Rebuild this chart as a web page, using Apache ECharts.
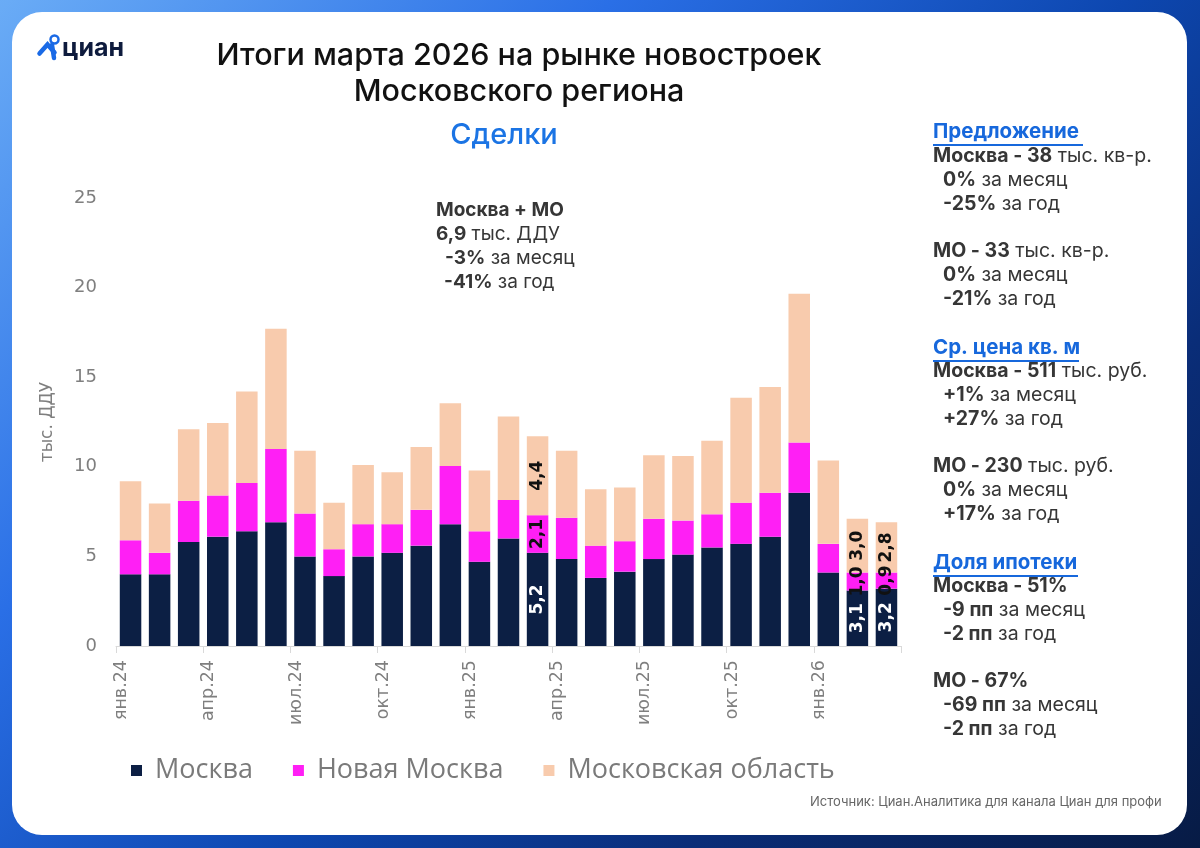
<!DOCTYPE html>
<html><head><meta charset="utf-8">
<script src="https://cdn.jsdelivr.net/npm/echarts@6/dist/echarts.min.js"></script>
<style>
html,body{margin:0;padding:0;width:1200px;height:848px;overflow:hidden;
background:linear-gradient(135deg,#6aacf6 0%,#2a6fe6 30%,#0d47b0 55%,#0a2d78 75%,#071b45 100%);}
#c{width:1200px;height:848px;}
</style></head>
<body><div id="c"></div>
<script>
var categories = ['янв.24','фев.24','мар.24','апр.24','май.24','июн.24','июл.24','авг.24','сен.24','окт.24','ноя.24','дек.24','янв.25','фев.25','мар.25','апр.25','май.25','июн.25','июл.25','авг.25','сен.25','окт.25','ноя.25','дек.25','янв.26','фев.26','мар.26'];
var moscow    = [4.0,4.0,5.8,6.1,6.4,6.9,5.0,3.9,5.0,5.2,5.6,6.8,4.7,6.0,5.2,4.85,3.8,4.15,4.85,5.1,5.5,5.7,6.1,8.55,4.1,3.1,3.2];
var newMoscow = [1.9,1.2,2.3,2.3,2.7,4.1,2.4,1.5,1.8,1.6,2.0,3.25,1.7,2.15,2.1,2.3,1.8,1.7,2.25,1.9,1.85,2.3,2.45,2.8,1.6,1.0,0.9];
var moRegion  = [3.3,2.75,4.0,4.05,5.1,6.7,3.5,2.6,3.3,2.9,3.5,3.5,3.4,4.65,4.4,3.75,3.15,3.0,3.55,3.6,4.1,5.85,5.9,8.3,4.65,3.0,2.8];
var labeledIdx = [14,25,26];
var seriesNames = ['Москва','Новая Москва','Московская область'];
var yTicks = [0,5,10,15,20,25];

var chart = echarts.init(document.getElementById('c'));

function buildData(arr, color){
  return arr.map(function(v,i){
    if(labeledIdx.indexOf(i)>=0){
      return {value:v,label:{show:true,color:color}};
    }
    return v;
  });
}
function fmt(p){ return Number(p.value).toFixed(1).replace('.',','); }
var labelBase = {show:false,position:'inside',rotate:90,fontSize:17,fontWeight:'bold',fontFamily:'DejaVu Sans',formatter:fmt};

var FONT='Inter';
var dark='#363636';
var PS=19.5;
function line(x,y,parts,size){
  var txt = parts.map(function(p){return '{'+p[0]+'|'+p[1]+'}';}).join('');
  return {type:'text',left:x,top:y,style:{text:txt,fontFamily:FONT,
    rich:{b:{fontSize:size||PS,fontWeight:'bold',fill:dark,fontFamily:FONT},
          n:{fontSize:size||PS,fontWeight:'normal',fill:dark,fontFamily:FONT}}}};
}
function header(x,y,t,w){
  return [{type:'text',left:x,top:y,style:{text:t,fontFamily:FONT,fontSize:20.5,fontWeight:'bold',fill:'#1768dc'}},
          {type:'rect',left:x,top:y+23,shape:{width:w,height:2},style:{fill:'#1768dc'}}];
}
var panelX = 933, ind = 943;
var graphics = [
  {type:'rect',left:12,top:12,shape:{width:1175,height:823,r:30},style:{fill:'#ffffff'},z:-10},
  // logo
  {type:'circle',left:48,top:33,shape:{r:4},style:{fill:'none',stroke:'#1a6ae6',lineWidth:2.5}},
  {type:'polyline',left:37,top:42,shape:{points:[[0,16],[8,7],[15,15]]},style:{stroke:'#1a6ae6',fill:'none',lineWidth:4.5,lineCap:'round'}},
  {type:'line',shape:{x1:52,y1:45,x2:54,y2:58},style:{stroke:'#1a6ae6',lineWidth:4.5,lineCap:'round'}},
  {type:'text',left:62,top:36,style:{text:'циан',fontFamily:'Inter',fontSize:25,fontWeight:'bold',fill:'#0e1b3d'}},
  // titles
  {type:'text',x:519,y:56,style:{text:'Итоги марта 2026 на рынке новостроек',align:'center',verticalAlign:'middle',fontFamily:'Inter',fontSize:30.5,fontWeight:500,fill:'#111'}},
  {type:'text',x:519,y:92,style:{text:'Московского региона',align:'center',verticalAlign:'middle',fontFamily:'Inter',fontSize:30.5,fontWeight:500,fill:'#111'}},
  {type:'text',x:504,y:135,style:{text:'Сделки',align:'center',verticalAlign:'middle',fontFamily:'Inter',fontSize:29,fontWeight:500,fill:'#1b74e4'}},
  // annotation
  line(436,201,[['b','Москва + МО']],19),
  line(436,225,[['b','6,9'],['n',' тыс. ДДУ']],19),
  line(445,249,[['b','-3%'],['n',' за месяц']],19),
  line(444,273,[['b','-41%'],['n',' за год']],19),
  // source
  {type:'text',left:810,top:796,style:{text:'Источник: Циан.Аналитика для канала Циан для профи',fontFamily:'Inter',fontSize:13,fill:'#666'}}
];
graphics = graphics.concat(header(panelX,121,'Предложение',150));
graphics.push(line(panelX,146,[['b','Москва - 38'],['n',' тыс. кв-р.']]));
graphics.push(line(ind,170,[['b','0%'],['n',' за месяц']]));
graphics.push(line(ind,194,[['b','-25%'],['n',' за год']]));
graphics.push(line(panelX,241,[['b','МО - 33'],['n',' тыс. кв-р.']]));
graphics.push(line(ind,265,[['b','0%'],['n',' за месяц']]));
graphics.push(line(ind,289,[['b','-21%'],['n',' за год']]));
graphics = graphics.concat(header(panelX,337,'Ср. цена кв. м',146));
graphics.push(line(panelX,361,[['b','Москва - 511'],['n',' тыс. руб.']]));
graphics.push(line(ind,385,[['b','+1%'],['n',' за месяц']]));
graphics.push(line(ind,409,[['b','+27%'],['n',' за год']]));
graphics.push(line(panelX,456,[['b','МО - 230'],['n',' тыс. руб.']]));
graphics.push(line(ind,480,[['b','0%'],['n',' за месяц']]));
graphics.push(line(ind,504,[['b','+17%'],['n',' за год']]));
graphics = graphics.concat(header(panelX,552,'Доля ипотеки',145));
graphics.push(line(panelX,576,[['b','Москва - 51%']]));
graphics.push(line(ind,600,[['b','-9 пп'],['n',' за месяц']]));
graphics.push(line(ind,624,[['b','-2 пп'],['n',' за год']]));
graphics.push(line(panelX,671,[['b','МО - 67%']]));
graphics.push(line(ind,695,[['b','-69 пп'],['n',' за месяц']]));
graphics.push(line(ind,719,[['b','-2 пп'],['n',' за год']]));

var option = {
  backgroundColor:'transparent',
  animation:false,
  graphic:graphics,
  grid:{left:116,right:299,top:198,bottom:202,containLabel:false},
  legend:{left:126,top:752,itemWidth:11,itemHeight:11,itemGap:40,icon:'rect',
    textStyle:{fontFamily:'Open Sans',fontSize:27,color:'#7a7a7a',padding:[0,0,0,8]},
    data:seriesNames},
  xAxis:{type:'category',data:categories,
    axisLine:{lineStyle:{color:'#d9d9d9',width:1}},
    axisTick:{show:true,interval:2,length:7,lineStyle:{color:'#d9d9d9'}},
    axisLabel:{interval:2,rotate:90,margin:14,verticalAlign:'bottom',fontFamily:'DejaVu Sans',fontSize:17.5,color:'#7f7f7f'}},
  yAxis:{type:'value',min:yTicks[0],max:yTicks[yTicks.length-1],interval:5,
    name:'тыс. ДДУ',nameLocation:'middle',nameGap:60,nameRotate:90,
    nameTextStyle:{fontFamily:'DejaVu Sans',fontSize:17,color:'#7f7f7f'},
    axisLine:{show:false},axisTick:{show:false},splitLine:{show:false},
    axisLabel:{margin:19,fontFamily:'DejaVu Sans',fontSize:18,color:'#7f7f7f'}},
  series:[
    {name:seriesNames[0],type:'bar',stack:'s',barCategoryGap:'26%',itemStyle:{color:'#0c1f44'},
     label:labelBase,data:buildData(moscow,'#ffffff')},
    {name:seriesNames[1],type:'bar',stack:'s',itemStyle:{color:'#ff1ff5'},
     label:labelBase,data:buildData(newMoscow,'#111111')},
    {name:seriesNames[2],type:'bar',stack:'s',itemStyle:{color:'#f8cbad'},
     label:labelBase,data:buildData(moRegion,'#111111')}
  ]
};
chart.setOption(option);
</script>
</body></html>
